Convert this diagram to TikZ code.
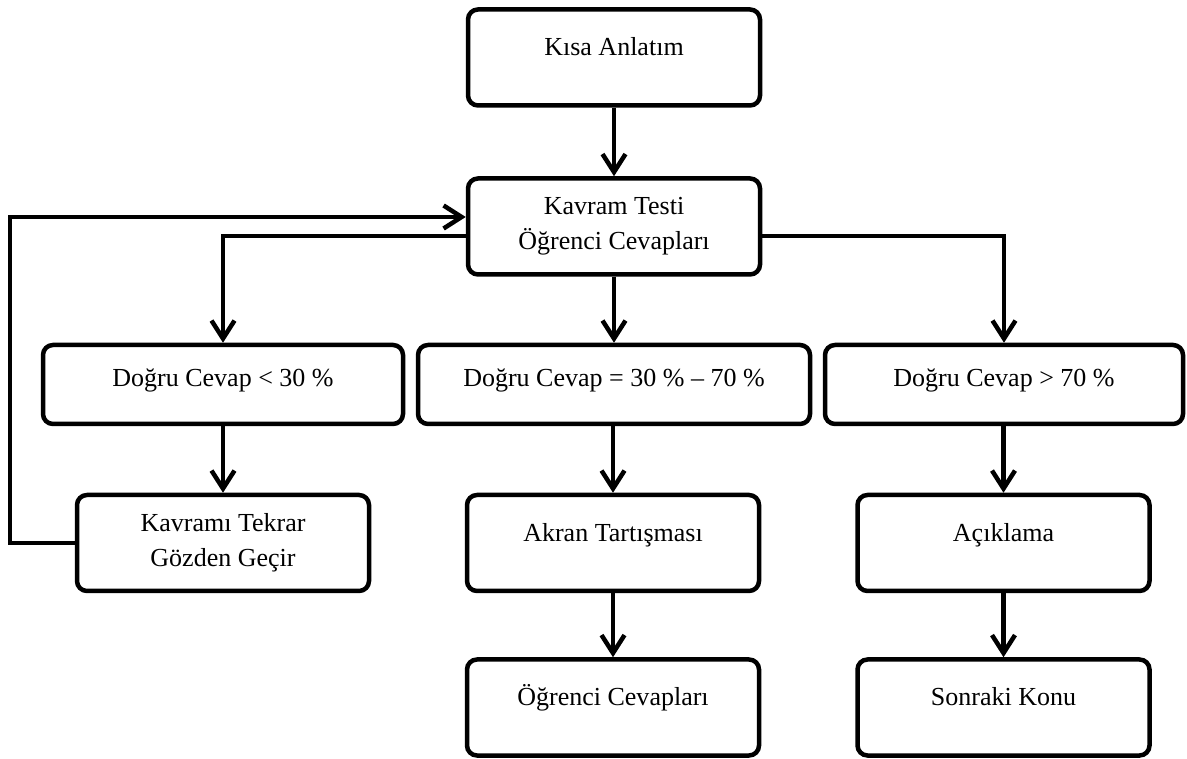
\documentclass[tikz,border=0pt]{standalone}
\usepackage{fontspec}
\setmainfont{Liberation Serif}
\usetikzlibrary{arrows.meta}

\tikzset{
  kutu/.style={draw, line width=0.09cm, rounded corners=0.2cm, minimum width=5.84cm,
    minimum height=1.92cm, align=center, inner sep=0pt, font=\fontsize{14.8}{20}\selectfont},
  tek/.style={text height=10pt, text depth=12pt},
  sart/.style={minimum height=1.58cm, text height=10pt, text depth=8pt},
  ok/.style={-{Straight Barb[length=0.36cm,width=0.46cm]}, line width=0.09cm}
}

\begin{document}
\begin{tikzpicture}
        \useasboundingbox (0,0) rectangle (23.74,15.16);
        % kutular
        \node[kutu,tek] (kisa) at (12.28,14.01) {Kısa Anlatım};
        \node[kutu] (kavram) at (12.28,10.63) {Kavram Testi\\Öğrenci Cevapları};
        \node[kutu,sart,minimum width=7.2cm] (az) at (4.46,7.47) {Doğru Cevap < 30 \%};
        \node[kutu,sart,minimum width=7.84cm] (orta) at (12.28,7.47) {Doğru Cevap = 30 \% -- 70 \%};
        \node[kutu,sart,minimum width=7.16cm] (cok) at (20.08,7.47) {Doğru Cevap > 70 \%};
        \node[kutu] (tekrar) at (4.46,4.30) {Kavramı Tekrar\\Gözden Geçir};
        \node[kutu,tek] (akran) at (12.26,4.30) {Akran Tartışması};
        \node[kutu,tek] (aciklama) at (20.07,4.30) {Açıklama};
        \node[kutu,tek] (ogrenci) at (12.26,1.01) {Öğrenci Cevapları};
        \node[kutu,tek] (sonraki) at (20.07,1.01) {Sonraki Konu};
        % oklar
        \draw[ok] (kisa) -- (kavram);
        \draw[ok] (kavram) -- (orta);
        \draw[ok] ([yshift=-0.19cm]kavram.west) -| (az.north);
        \draw[ok] ([yshift=-0.19cm]kavram.east) -| (cok.north);
        \draw[ok] (az) -- (tekrar);
        \draw[ok] (orta.south -| akran.north) -- (akran);
        \draw[ok] (akran) -- (ogrenci);
        \draw[ok] (cok.south -| aciklama.north) -- (aciklama);
        \draw[ok] (aciklama) -- (sonraki);
        % geri donus
        \draw[ok] (tekrar.west) -- ++(-1.3,0) |- ([yshift=0.19cm]kavram.west);
\end{tikzpicture}
\end{document}
